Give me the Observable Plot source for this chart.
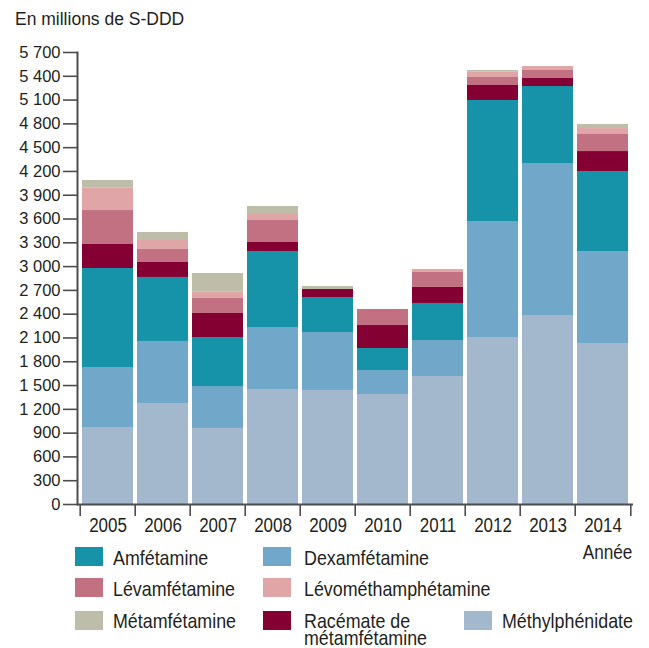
<!DOCTYPE html>
<html>
<head>
<meta charset="utf-8">
<script src="https://cdn.jsdelivr.net/npm/d3@7"></script>
<script src="https://cdn.jsdelivr.net/npm/@observablehq/plot@0.6"></script>
<style>
  html, body { margin: 0; padding: 0; background: #fff; }
  #wrap { position: relative; width: 649px; height: 648px; overflow: hidden; color: #231f20; font-family: "Liberation Sans", Arial, sans-serif; }
  #title { position: absolute; left: 15px; top: 11px; font-size: 17.5px; line-height: 1; white-space: nowrap; }
  #chart { position: absolute; left: 0; top: 36px; }
  .sw { position: absolute; width: 28px; height: 19px; }
  .lt { position: absolute; font-size: 21px; line-height: 17px; white-space: nowrap; transform: scaleX(0.85); transform-origin: 0 0; }
  #annee { position: absolute; right: 17px; top: 543px; font-size: 19.5px; line-height: 1; transform: scaleX(0.88); transform-origin: 100% 0; }
</style>
</head>
<body>
<div id="wrap">
  <div id="title">En millions de S-DDD</div>
  <div id="chart"></div>
  <div id="annee">Année</div>
  <div id="legend"></div>
</div>
<script>
const years = ["2005","2006","2007","2008","2009","2010","2011","2012","2013","2014"];

const methylphenidate     = [971, 1274, 959, 1450, 1438, 1387, 1614, 2106, 2383, 2030];
const dexamfetamine       = [757, 782, 529, 782, 731, 303, 454, 1463, 1917, 1160];
const amfetamine          = [1248, 807, 618, 958, 441, 277, 467, 1526, 971, 1009];
const racemate            = [303, 189, 303, 114, 101, 290, 202, 189, 101, 252];
const levamfetamine       = [428, 164, 189, 277, 0, 202, 189, 101, 101, 215];
const levomethamphetamine = [286, 113, 79, 76, 0, 0, 37, 71, 50, 75];
const metamfetamine       = [93, 101, 236, 101, 38, 0, 0, 17, 0, 51];

const yTicks = [0,300,600,900,1200,1500,1800,2100,2400,2700,3000,3300,3600,3900,4200,4500,4800,5100,5400,5700];

// stack order, bottom to top
const stackOrder = ["Méthylphénidate","Dexamfétamine","Amfétamine","Racémate de métamfétamine","Lévamfétamine","Lévométhamphétamine","Métamfétamine"];
const stackValues = [methylphenidate, dexamfetamine, amfetamine, racemate, levamfetamine, levomethamphetamine, metamfetamine];

// legend order
const legendOrder = ["Amfétamine","Dexamfétamine","Lévamfétamine","Lévométhamphétamine","Métamfétamine","Racémate de métamfétamine","Méthylphénidate"];
const legendLabels = ["Amfétamine","Dexamfétamine","Lévamfétamine","Lévométhamphétamine","Métamfétamine","Racémate de<br>métamfétamine","Méthylphénidate"];
const colors = {
  "Amfétamine": "#1693a9",
  "Dexamfétamine": "#71a7c9",
  "Lévamfétamine": "#c17182",
  "Lévométhamphétamine": "#e0a6a7",
  "Métamfétamine": "#bdbda9",
  "Racémate de métamfétamine": "#840033",
  "Méthylphénidate": "#a3b8cc"
};

const table = [];
years.forEach((yr, i) => {
  stackOrder.forEach((drug, k) => {
    table.push({year: yr, drug, value: stackValues[k][i]});
  });
});

const W = 649, H = 510, ML = 77, MR = 16, MT = 16, MB = 42;
const step = (W - ML - MR) / years.length;
const fmt = d => d3.format(",")(d).replace(/,/g, " ");
const axisColor = "#4d4d4d";

const chart = Plot.plot({
  width: W, height: H,
  marginLeft: ML, marginRight: MR, marginTop: MT, marginBottom: MB,
  style: {fontFamily: '"Liberation Sans", Arial, sans-serif', color: "#231f20", background: "transparent"},
  x: {domain: years, paddingInner: 0.08, paddingOuter: 0.04, axis: null, label: null},
  y: {domain: [0, 5700], axis: null, label: null},
  color: {domain: stackOrder, range: stackOrder.map(d => colors[d])},
  marks: [
    Plot.barY(table, {x: "year", y: "value", fill: "drug", order: stackOrder}),
    Plot.ruleY([0], {stroke: axisColor, strokeWidth: 2}),
    Plot.frame({anchor: "left", stroke: axisColor, strokeWidth: 2}),
    Plot.axisY({ticks: yTicks, tickSize: 14, tickPadding: 3, tickFormat: fmt, fontSize: 16.5, stroke: axisColor, strokeWidth: 1.6, label: null}),
    Plot.axisX({tickSize: 0, tickPadding: 14, fontSize: 19.5, label: null}),
    Plot.axisX({ticks: years, tickSize: 12, tickFormat: () => "", dx: -step / 2, stroke: axisColor, strokeWidth: 1.6, label: null}),
    Plot.axisX({ticks: [years[years.length - 1]], tickSize: 12, tickFormat: () => "", dx: step / 2, stroke: axisColor, strokeWidth: 1.6, label: null})
  ]
});
document.getElementById("chart").appendChild(chart);

// condense the year labels horizontally around their anchor
d3.select(chart).selectAll("text").each(function() {
  if (years.includes(this.textContent)) {
    const t = this.getAttribute("transform") || "";
    this.setAttribute("transform", (t + " scale(0.87,1)").trim());
  }
});

// legend
const legend = document.getElementById("legend");
const colX = [75, 263, 464];
const txtX = [113, 304, 502];
const rowY = [547, 578, 611];
const pos = [[0,0],[1,0],[0,1],[1,1],[0,2],[1,2],[2,2]];
legendOrder.forEach((d, i) => {
  const [c, r] = pos[i];
  const sw = document.createElement("div");
  sw.className = "sw";
  sw.style.left = colX[c] + "px";
  sw.style.top = rowY[r] + "px";
  sw.style.background = colors[d];
  legend.appendChild(sw);
  const t = document.createElement("div");
  t.className = "lt";
  t.style.left = txtX[c] + "px";
  t.style.top = (rowY[r] + (r === 2 ? 1 : 2)) + "px";
  t.innerHTML = legendLabels[i];
  legend.appendChild(t);
});
</script>
</body>
</html>
